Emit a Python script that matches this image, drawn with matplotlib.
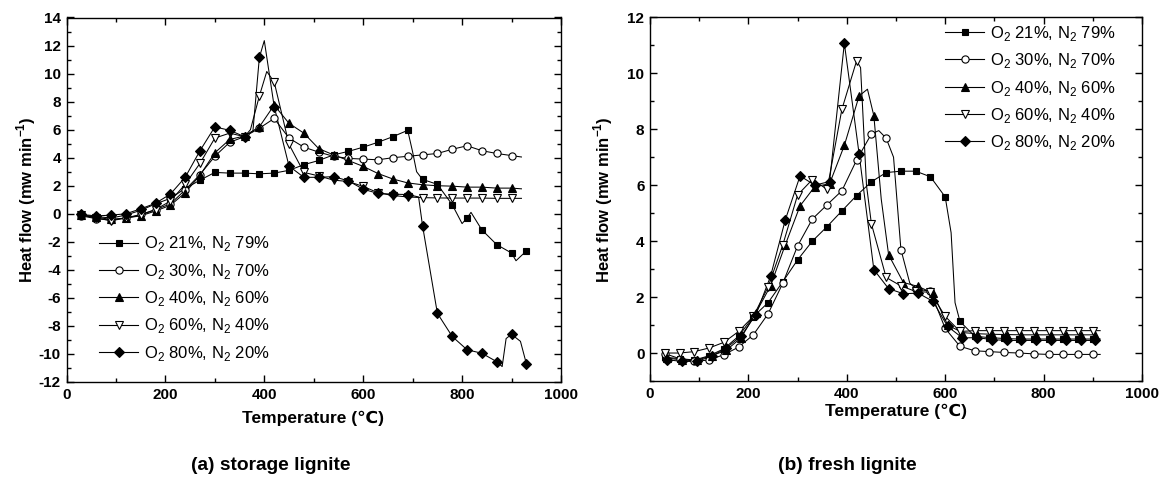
import numpy as np
import matplotlib
matplotlib.use("Agg")
import matplotlib.pyplot as plt
from matplotlib.lines import Line2D
from matplotlib.ticker import MultipleLocator

plt.rcParams['font.family'] = ['Liberation Sans', 'DejaVu Sans']
plt.rcParams['mathtext.fontset'] = 'custom'
plt.rcParams['mathtext.rm'] = 'Liberation Sans'
plt.rcParams['mathtext.bf'] = 'Liberation Sans:bold'
plt.rcParams['axes.unicode_minus'] = False

labels = [r'O$_{\mathregular{2}}$ 21%, N$_{\mathregular{2}}$ 79%',
          r'O$_{\mathregular{2}}$ 30%, N$_{\mathregular{2}}$ 70%',
          r'O$_{\mathregular{2}}$ 40%, N$_{\mathregular{2}}$ 60%',
          r'O$_{\mathregular{2}}$ 60%, N$_{\mathregular{2}}$ 40%',
          r'O$_{\mathregular{2}}$ 80%, N$_{\mathregular{2}}$ 20%']

# ---------------- (a) storage lignite ----------------
a_T31 = list(range(30, 931, 30))
a_T30 = list(range(30, 901, 30))

a_sq = [-0.1, -0.2, -0.3, -0.1, 0.25, 0.7, 1.1, 1.8, 2.4, 2.95, 2.9, 2.9, 2.85, 2.9, 3.1, 3.5,
        3.8, 4.2, 4.45, 4.75, 5.1, 5.5, 5.95, 2.45, 2.1, 0.65, -0.3, -1.15, -2.2, -2.8, -2.65]
a_sq_xT = [700, 708, 800, 818, 909]
a_sq_xV = [4.4, 3.0, -0.7, 0.1, -3.35]

a_ci = [-0.15, -0.35, -0.45, -0.3, -0.05, 0.3, 0.7, 1.7, 2.8, 4.1, 5.1, 5.5, 6.1, 6.8, 5.4, 4.75,
        4.4, 4.1, 3.95, 3.9, 3.85, 4.0, 4.1, 4.2, 4.3, 4.6, 4.85, 4.5, 4.3, 4.15]
a_ci_xT = [920]
a_ci_xV = [4.05]

a_tu = [-0.1, -0.25, -0.4, -0.3, -0.15, 0.2, 0.6, 1.5, 2.75, 4.35, 5.3, 5.55, 6.2, 7.75, 6.45, 5.75,
        4.65, 4.2, 3.8, 3.38, 2.87, 2.48, 2.2, 2.07, 2.0, 1.97, 1.9, 1.9, 1.83, 1.83]
a_tu_xT = [920]
a_tu_xV = [1.78]

a_td = [-0.1, -0.3, -0.5, -0.3, -0.1, 0.3, 0.9, 2.1, 3.6, 5.4, 5.75, 5.5, 8.4, 9.4, 4.95, 2.95,
        2.7, 2.4, 2.3, 1.95, 1.5, 1.3, 1.2, 1.15, 1.13, 1.12, 1.12, 1.12, 1.1, 1.1]
a_td_xT = [372, 405, 920]
a_td_xV = [6.0, 10.15, 1.1]

a_di = [-0.05, -0.15, -0.1, 0.0, 0.35, 0.75, 1.4, 2.6, 4.5, 6.2, 5.95, 5.5, 11.15, 7.65, 3.4, 2.6,
        2.6, 2.65, 2.35, 1.75, 1.45, 1.4, 1.37, -0.85, -7.1, -8.75, -9.7, -9.95, -10.55, -8.6, -10.7]
a_di_xT = [377, 400, 712, 881, 889, 918]
a_di_xV = [5.9, 12.35, 1.2, -10.9, -8.9, -9.1]

# ---------------- (b) fresh lignite ----------------
b_T0 = list(range(30, 901, 30))
b_T5 = list(range(35, 906, 30))

b_sq = [-0.15, -0.2, -0.25, -0.1, 0.15, 0.6, 1.3, 1.8, 2.55, 3.33, 4.0, 4.52, 5.08, 5.63, 6.12, 6.45,
        6.5, 6.5, 6.3, 5.58, 1.13, 0.6, 0.55, 0.52, 0.5, 0.5, 0.5, 0.5, 0.5, 0.5]
b_sq_xT = [612, 620, 915]
b_sq_xV = [4.3, 1.8, 0.5]

b_ci = [-0.02, -0.2, -0.3, -0.25, -0.06, 0.21, 0.65, 1.4, 2.5, 3.83, 4.79, 5.3, 5.8, 6.9, 7.83, 7.68,
        3.7, 2.3, 2.2, 0.88, 0.24, 0.08, 0.05, 0.02, 0.0, -0.03, -0.05, -0.05, -0.05, -0.05]
b_ci_xT = [465, 495, 528, 915]
b_ci_xV = [7.95, 7.0, 2.5, -0.05]

b_tu = [-0.18, -0.25, -0.25, -0.1, 0.1, 0.54, 1.43, 2.4, 3.87, 5.26, 5.95, 6.05, 7.42, 9.19, 8.48, 3.51,
        2.52, 2.38, 2.14, 1.0, 0.73, 0.69, 0.67, 0.66, 0.65, 0.65, 0.65, 0.65, 0.65, 0.65]
b_tu_xT = [442, 470]
b_tu_xV = [9.43, 5.5]

b_td = [0.0, 0.0, 0.05, 0.18, 0.38, 0.77, 1.31, 2.36, 3.87, 5.65, 6.2, 5.85, 8.71, 10.45, 4.62, 2.7,
        2.4, 2.2, 2.17, 1.31, 0.77, 0.8, 0.8, 0.8, 0.8, 0.8, 0.8, 0.8, 0.8, 0.8]
b_td_xT = [428, 440, 915]
b_td_xV = [10.2, 6.0, 0.8]

b_di = [-0.24, -0.3, -0.3, -0.12, 0.18, 0.6, 1.37, 2.74, 4.76, 6.33, 6.0, 6.13, 11.07, 7.12, 2.98, 2.3,
        2.12, 2.14, 1.85, 0.95, 0.54, 0.55, 0.48, 0.45, 0.45, 0.45, 0.45, 0.45, 0.45, 0.45]
b_di_xT = []
b_di_xV = []

styles = [('s', 'black', 4.8), ('o', 'white', 5.2), ('^', 'black', 5.8), ('v', 'white', 5.8), ('D', 'black', 4.8)]

fig = plt.figure(figsize=(11.62, 4.8), dpi=100)
axA = fig.add_axes([66.5/1162, 1-382/480, 494.5/1162, 364.5/480])
axB = fig.add_axes([650/1162, 1-381/480, 492/1162, 363.7/480])


def draw(ax, mT, mV, xT, xV, st):
    T = np.array(list(mT) + list(xT), dtype=float)
    V = np.array(list(mV) + list(xV), dtype=float)
    o = np.argsort(T)
    ax.plot(T[o], V[o], color='black', lw=0.75, zorder=2)
    m, fc, ms = st
    ax.plot(mT, mV, ls='none', marker=m, mfc=fc, mec='black', ms=ms, mew=0.8, zorder=3)


seriesA = [(a_T31, a_sq, a_sq_xT, a_sq_xV), (a_T30, a_ci, a_ci_xT, a_ci_xV),
           (a_T30, a_tu, a_tu_xT, a_tu_xV), (a_T30, a_td, a_td_xT, a_td_xV),
           (a_T31, a_di, a_di_xT, a_di_xV)]
seriesB = [(b_T0, b_sq, b_sq_xT, b_sq_xV), (b_T0, b_ci, b_ci_xT, b_ci_xV),
           (b_T5, b_tu, b_tu_xT, b_tu_xV), (b_T0, b_td, b_td_xT, b_td_xV),
           (b_T5, b_di, b_di_xT, b_di_xV)]

for s, st in zip(seriesA, styles):
    draw(axA, *s, st)
for s, st in zip(seriesB, styles):
    draw(axB, *s, st)

handles = [Line2D([], [], color='black', lw=0.8, marker=m, mfc=fc, mec='black', ms=ms, mew=0.8)
           for m, fc, ms in styles]

for ax, ylim, lpos in [(axA, (-12, 14), (0.066, 0.405)), (axB, (-1, 12), (0.60, 0.982))]:
    ax.set_xlim(0, 1000)
    ax.set_ylim(*ylim)
    ax.xaxis.set_major_locator(MultipleLocator(200))
    ax.xaxis.set_minor_locator(MultipleLocator(100))
    ax.yaxis.set_major_locator(MultipleLocator(2))
    ax.yaxis.set_minor_locator(MultipleLocator(1))
    ax.tick_params(which='both', direction='in', top=True, right=True, width=1)
    ax.tick_params(which='major', length=5, labelsize=11, pad=4)
    ax.tick_params(which='minor', length=3)
    for lab in ax.get_xticklabels() + ax.get_yticklabels():
        lab.set_fontweight('bold')
    for sp in ax.spines.values():
        sp.set_linewidth(1)
    ax.legend(handles, labels, loc='upper left', bbox_to_anchor=lpos, frameon=False,
              fontsize=12, handlelength=2.35, handletextpad=0.35, labelspacing=0.5,
              borderpad=0, borderaxespad=0, numpoints=1)

fig.text(313/1162, 1-418/480, 'Temperature (\u2103)', ha='center', va='center', fontsize=12.5, fontweight='bold')
fig.text(896/1162, 1-411/480, 'Temperature (\u2103)', ha='center', va='center', fontsize=12.5, fontweight='bold')
fig.text(26/1162, 1-200/480, r'Heat flow (mw min$^{\mathbf{-1}}$)', ha='center', va='center',
         rotation=90, fontsize=12, fontweight='bold')
fig.text(603/1162, 1-200/480, r'Heat flow (mw min$^{\mathbf{-1}}$)', ha='center', va='center',
         rotation=90, fontsize=12, fontweight='bold')
fig.text(271/1162, 1-466/480, '(a) storage lignite', ha='center', va='center', fontsize=13.8, fontweight='bold')
fig.text(847/1162, 1-466/480, '(b) fresh lignite', ha='center', va='center', fontsize=13.8, fontweight='bold')

fig.savefig('out.png', dpi=100)
